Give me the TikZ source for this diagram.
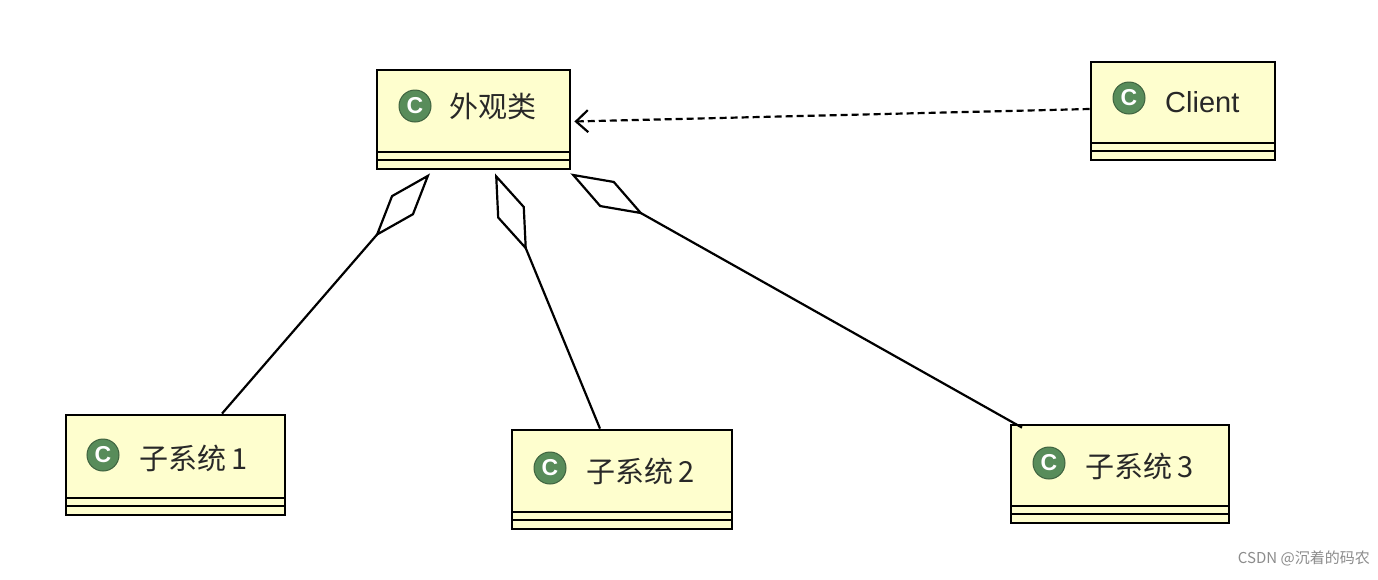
\documentclass[tikz,border=0pt]{standalone}
\usepackage{fontspec}
\setmainfont{Liberation Sans}
\newfontfamily\cjk{Noto Sans CJK SC}
\usetikzlibrary{arrows.meta,calc}
\definecolor{boxfill}{RGB}{254,254,206}
\definecolor{icongreen}{RGB}{88,140,90}
\definecolor{txt}{RGB}{40,40,40}
\tikzset{
  cls/.style={draw=black, line width=2.8pt, fill=boxfill, rectangle, inner sep=0},
  icon/.style={circle, fill=icongreen, draw=icongreen!70!black, line width=1pt, minimum size=32pt, inner sep=0, text=white, font=\bfseries\fontsize{23}{23}\selectfont},
  lbl/.style={anchor=west, text=txt, inner sep=0, font=\cjk\fontsize{29}{29}\selectfont},
  agg/.style={line width=2.2pt, -{Diamond[open,fill=white,length=84pt,width=30pt,line width=2.2pt]}},
  dep/.style={line width=2.2pt, dashed, dash pattern=on 7pt off 4pt, -{Straight Barb[length=12pt,width=22pt,line width=2.2pt]}}
}
\newcommand{\umlbox}[5]{% name, x1,y1,x2,y2
  \node[cls, minimum width=#4-#2, minimum height=#5-#3] (#1) at ({(#2+#4)/2},{(#3+#5)/2}) {};
  \draw[line width=2.2pt] (#2,#5-17) -- (#4,#5-17);
  \draw[line width=2.2pt] (#2,#5-9) -- (#4,#5-9);
}
\begin{document}
\begin{tikzpicture}[x=1pt,y=-1pt]
\useasboundingbox (0,0) rectangle (1378,579);
\fill[white] (0,0) rectangle (1378,579);
\umlbox{f}{377}{70}{570}{169}
\umlbox{c}{1091}{62}{1275}{160}
\umlbox{s1}{66}{415}{285}{515}
\umlbox{s2}{512}{430}{732}{529}
\umlbox{s3}{1011}{425}{1229}{523}
\node[icon] (fi) at (415,106) {C};
\node[lbl] (fl) at (449,106) {外观类};
\node[icon] (ci) at (1129,98) {C};
\node[lbl, font=\fontsize{29}{29}\selectfont] (cl) at (1165,102) {Client};
\node[icon] (s1i) at (103,455) {C};
\node[lbl] (s1l) at (139,458) {子系统\,1};
\node[icon] (s2i) at (550,468) {C};
\node[lbl] (s2l) at (586,471) {子系统\,2};
\node[icon] (s3i) at (1049,463) {C};
\node[lbl] (s3l) at (1085,466) {子系统\,3};
\draw[agg] ([xshift=46.5pt]s1.north) -- ([xshift=-43.5pt,yshift=-3pt]f.south);
\draw[agg] ([xshift=-22pt]s2.north) -- ([xshift=21.5pt,yshift=-3pt]f.south);
\draw[agg] ([xshift=-98pt,yshift=-4pt]s3.north) -- ([xshift=-1pt,yshift=-3pt]f.south east);
\draw[dep] ([yshift=2pt]c.west) -- ([xshift=3pt,yshift=-2pt]f.east);
\node[anchor=east, text=black!45, inner sep=0, font=\cjk\fontsize{15}{15}\selectfont] (wm) at (1370,558) {CSDN @沉着的码农};
\end{tikzpicture}
\end{document}
